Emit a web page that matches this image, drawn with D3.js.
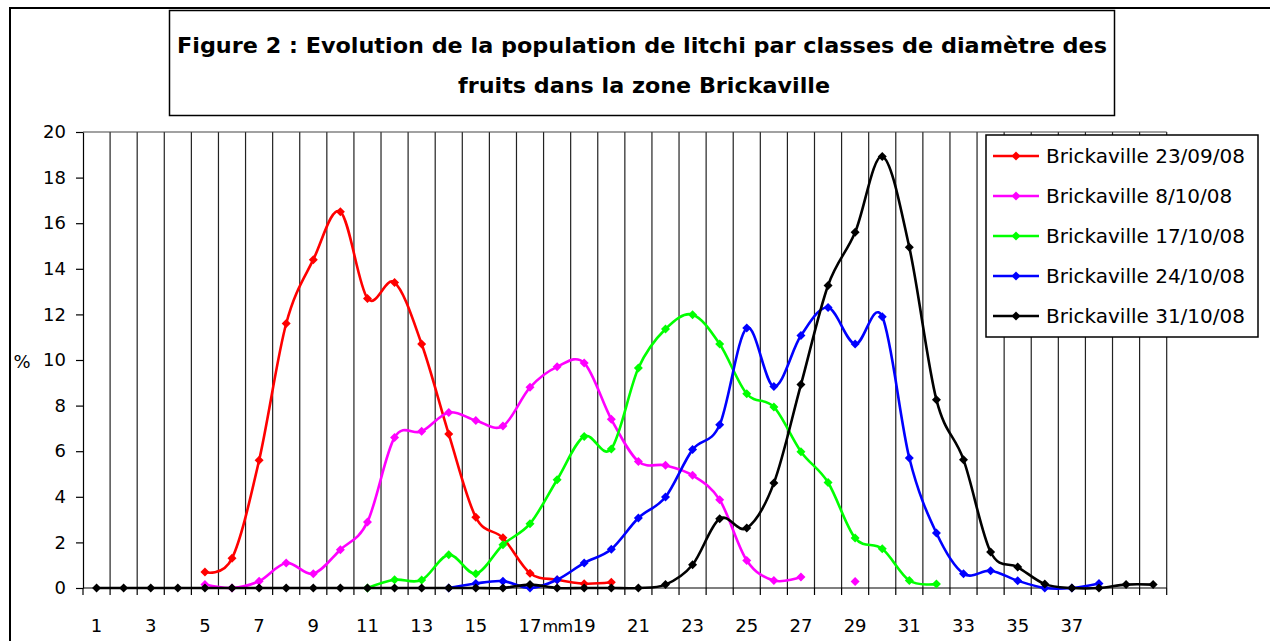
<!DOCTYPE html>
<html>
<head>
<meta charset="utf-8">
<script src="https://cdn.jsdelivr.net/npm/d3@7"></script>
<style>
  body { margin: 0; background: #fff; }
  svg { display: block; }
</style>
</head>
<body>
<div id="chart"></div>
<script>
// classes de diamètre (mm)
const classes = d3.range(1, 41);
const tickLabels = ["1","3","5","7","9","11","13","15","17","19","21","23","25","27","29","31","33","35","37"];
const yTicks = [0, 2, 4, 6, 8, 10, 12, 14, 16, 18, 20];

// values per class 1..40, null = no point
const red = [null, null, null, null, 0.7, 1.3, 5.6, 11.6, 14.4, 16.5, 12.7, 13.4, 10.7, 6.75, 3.1, 2.2, 0.65, 0.36, 0.19, 0.25,
  null, null, null, null, null, null, null, null, null, null, null, null, null, null, null, null, null, null, null, null];
const magenta = [null, null, null, null, 0.15, 0, 0.3, 1.1, 0.63, 1.68, 2.9, 6.6, 6.87, 7.7, 7.35, 7.1, 8.8, 9.7, 9.87, 7.4,
  5.55, 5.38, 4.94, 3.87, 1.21, 0.33, 0.48, null, 0.28, null, null, null, null, null, null, null, null, null, null, null];
const green = [null, null, null, null, null, null, null, null, null, null, 0, 0.36, 0.35, 1.46, 0.63, 1.9, 2.82, 4.75, 6.65, 6.1,
  9.65, 11.36, 11.99, 10.7, 8.52, 7.94, 5.98, 4.63, 2.19, 1.72, 0.33, 0.17, null, null, null, null, null, null, null, null];
const blue = [null, null, null, null, null, null, null, null, null, null, null, null, null, 0, 0.2, 0.3, 0, 0.36, 1.1, 1.7,
  3.07, 3.99, 6.07, 7.16, 11.4, 8.84, 11.07, 12.3, 10.7, 11.9, 5.7, 2.41, 0.63, 0.76, 0.32, 0, 0, 0.2, null, null];
const black = [0, 0, 0, 0, 0, 0, 0, 0, 0, 0, 0, 0, 0, 0, 0, 0, 0.15, 0, 0, 0,
  0, 0.15, 1.02, 3.04, 2.63, 4.6, 8.92, 13.27, 15.6, 18.93, 14.94, 8.26, 5.63, 1.58, 0.92, 0.17, 0, 0, 0.15, 0.15];

const seriesNames = ["Brickaville 23/09/08", "Brickaville 8/10/08", "Brickaville 17/10/08", "Brickaville 24/10/08", "Brickaville 31/10/08"];
const seriesColors = ["#ff0000", "#ff00ff", "#00ff00", "#0000ff", "#000000"];
const seriesValues = [red, magenta, green, blue, black];

document.addEventListener('DOMContentLoaded', () => {
  const width = 1270, height = 641;
  const plot = { left: 83, right: 1166.7, top: 132, bottom: 588 };
  const font = "'DejaVu Sans', Verdana, sans-serif";

  const svg = d3.select("#chart").append("svg")
      .attr("width", width)
      .attr("height", height)
      .style("font-family", font);

  // outer frame (runs off the right/bottom edge like the scan)
  svg.append("rect")
      .attr("x", 10).attr("y", 8)
      .attr("width", 1300).attr("height", 700)
      .attr("fill", "#fff").attr("stroke", "#000").attr("stroke-width", 2);

  // title box
  svg.append("rect")
      .attr("x", 169.5).attr("y", 10.5)
      .attr("width", 945).attr("height", 105)
      .attr("fill", "#fff").attr("stroke", "#000").attr("stroke-width", 1.5);

  const title = svg.append("text")
      .attr("text-anchor", "middle")
      .attr("font-weight", "bold")
      .attr("font-size", 21);
  title.append("tspan")
      .attr("x", 642).attr("y", 53)
      .attr("textLength", 930).attr("lengthAdjust", "spacingAndGlyphs")
      .text("Figure 2 : Evolution de la population de litchi par classes de diamètre des");
  title.append("tspan")
      .attr("x", 644).attr("y", 93)
      .attr("textLength", 372).attr("lengthAdjust", "spacingAndGlyphs")
      .text("fruits dans la zone Brickaville");

  const x = d3.scaleBand()
      .domain(classes)
      .range([plot.left, plot.right]);
  const cx = d => x(d) + x.bandwidth() / 2;
  const y = d3.scaleLinear()
      .domain([0, 20])
      .range([plot.bottom, plot.top]);

  // vertical gridlines at class boundaries
  const bounds = classes.map(d => x(d)).concat(plot.right);
  svg.append("g")
    .selectAll("line")
    .data(bounds.slice(1))
    .join("line")
      .attr("x1", d => d).attr("x2", d => d)
      .attr("y1", plot.top).attr("y2", plot.bottom)
      .attr("stroke", "#222").attr("stroke-width", 1.2);

  // top border of plot area
  svg.append("line")
      .attr("x1", plot.left).attr("x2", plot.right)
      .attr("y1", plot.top).attr("y2", plot.top)
      .attr("stroke", "#444").attr("stroke-width", 1.2);

  // y axis
  const yAxis = svg.append("g")
      .attr("transform", `translate(${plot.left},0)`)
      .call(d3.axisLeft(y).tickValues(yTicks).tickSize(7).tickPadding(10).tickSizeOuter(0));
  yAxis.select(".domain").attr("stroke", "#000").attr("stroke-width", 1.2);
  yAxis.selectAll(".tick line").attr("stroke", "#000").attr("stroke-width", 1.2);
  yAxis.selectAll("text").attr("font-size", 18).attr("font-family", font).attr("fill", "#000");

  svg.append("text")
      .attr("x", 22).attr("y", 368)
      .attr("text-anchor", "middle")
      .attr("font-size", 18)
      .text("%");

  // x axis line + boundary ticks
  svg.append("line")
      .attr("x1", plot.left).attr("x2", plot.right)
      .attr("y1", plot.bottom).attr("y2", plot.bottom)
      .attr("stroke", "#000").attr("stroke-width", 1.2);
  svg.append("g")
    .selectAll("line")
    .data(bounds)
    .join("line")
      .attr("x1", d => d).attr("x2", d => d)
      .attr("y1", plot.bottom).attr("y2", plot.bottom + 7)
      .attr("stroke", "#000").attr("stroke-width", 1.2);

  svg.append("g")
    .selectAll("text")
    .data(tickLabels)
    .join("text")
      .attr("x", d => cx(+d))
      .attr("y", 632)
      .attr("text-anchor", "middle")
      .attr("font-size", 18)
      .text(d => d);

  // axis unit squeezed between 17 and 19 as in the original
  svg.append("text")
      .attr("x", cx(17) + 12.5).attr("y", 632)
      .attr("font-size", 16)
      .attr("letter-spacing", -0.6)
      .text("mm");

  // series
  const line = d3.line()
      .defined(d => d.v !== null)
      .x(d => cx(d.c))
      .y(d => y(d.v))
      .curve(d3.curveCardinal.tension(0));

  const diamond = "M0,-4.5L4.5,0L0,4.5L-4.5,0Z";

  seriesValues.forEach((vals, i) => {
    const pts = classes.map((c, j) => ({ c: c, v: vals[j] }));
    const g = svg.append("g");
    g.append("path")
        .datum(pts)
        .attr("d", line)
        .attr("fill", "none")
        .attr("stroke", seriesColors[i])
        .attr("stroke-width", 2.6)
        .attr("stroke-linejoin", "round");
    g.selectAll("path.mk")
      .data(pts.filter(d => d.v !== null))
      .join("path")
        .attr("class", "mk")
        .attr("d", diamond)
        .attr("transform", d => `translate(${cx(d.c)},${y(d.v)})`)
        .attr("fill", seriesColors[i]);
  });

  // legend
  const legend = svg.append("g");
  legend.append("rect")
      .attr("x", 986).attr("y", 135)
      .attr("width", 272).attr("height", 202)
      .attr("fill", "#fff").attr("stroke", "#000").attr("stroke-width", 1.5);

  const item = legend.selectAll("g")
    .data(seriesNames)
    .join("g")
      .attr("transform", (d, i) => `translate(0,${156 + i * 40})`);
  item.append("line")
      .attr("x1", 993).attr("x2", 1039)
      .attr("stroke", (d, i) => seriesColors[i])
      .attr("stroke-width", 2.6);
  item.append("path")
      .attr("d", diamond)
      .attr("transform", "translate(1016,0)")
      .attr("fill", (d, i) => seriesColors[i]);
  item.append("text")
      .attr("x", 1046).attr("y", 7)
      .attr("font-size", 20)
      .text(d => d);
});
</script>
</body>
</html>
